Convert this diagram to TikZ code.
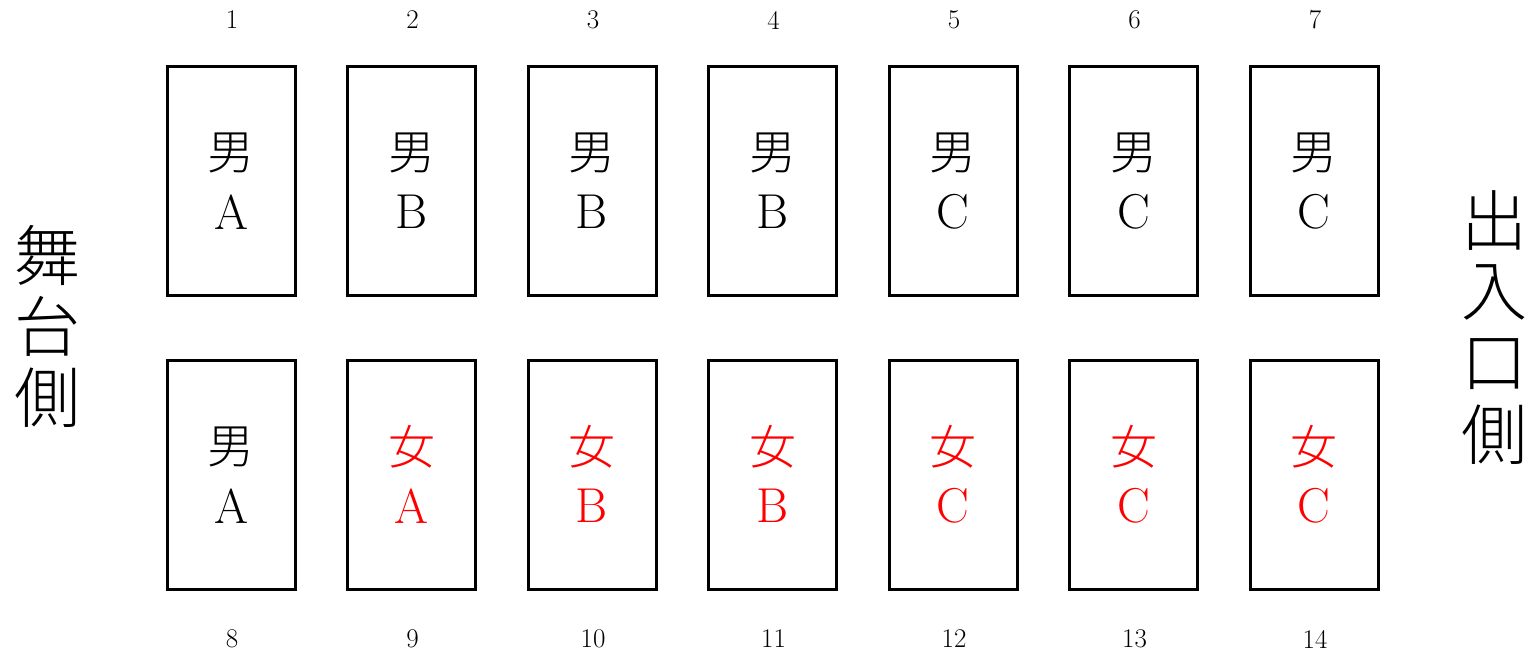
\documentclass[tikz,border=0pt]{standalone}
\usepackage{fontspec}
\newfontfamily\cjk{Noto Sans CJK JP Light}
\begin{document}
\begin{tikzpicture}[x=1pt,y=-1pt,
  seat/.style={draw,line width=3pt,minimum width=128pt,minimum height=229pt,inner sep=0pt},
  kanji/.style={font=\cjk\fontsize{47}{47}\selectfont,inner sep=0pt},
  grp/.style={font=\fontsize{49}{49}\selectfont,inner sep=0pt},
  num/.style={font=\fontsize{27}{27}\selectfont,inner sep=0pt},
  side/.style={font=\cjk\fontsize{66}{66}\selectfont,inner sep=0pt}]
\useasboundingbox (0,0) rectangle (1535,657);
\foreach \i/\k/\g/\c in {1/男/A/black,2/男/B/black,3/男/B/black,4/男/B/black,5/男/C/black,6/男/C/black,7/男/C/black}{
  \node[seat] (s\i) at ({231+180.5*(\i-1)},180.5) {};
  \node[kanji,text=\c] (k\i) at ({231+180.5*(\i-1)},153) {\k};
  \node[grp,text=\c] (g\i) at ({231+180.5*(\i-1)},212) {\g};
  \node[num] (n\i) at ({232+180.5*(\i-1)},20) {\i};
}
\foreach \i/\k/\g/\c in {8/男/A/black,9/女/A/red,10/女/B/red,11/女/B/red,12/女/C/red,13/女/C/red,14/女/C/red}{
  \node[seat] (s\i) at ({231+180.5*(\i-8)},474.5) {};
  \node[kanji,text=\c] (k\i) at ({231+180.5*(\i-8)},447) {\k};
  \node[grp,text=\c] (g\i) at ({231+180.5*(\i-8)},506) {\g};
  \node[num] (n\i) at ({232+180.5*(\i-8)},639) {\i};
}
\node[side] (l1) at (47,255) {舞};
\node[side] (l2) at (47,326) {台};
\node[side] (l3) at (47,398) {側};
\node[side] (r1) at (1494,221) {出};
\node[side] (r2) at (1494,292) {入};
\node[side] (r3) at (1494,364) {口};
\node[side] (r4) at (1494,435) {側};
\end{tikzpicture}
\end{document}
